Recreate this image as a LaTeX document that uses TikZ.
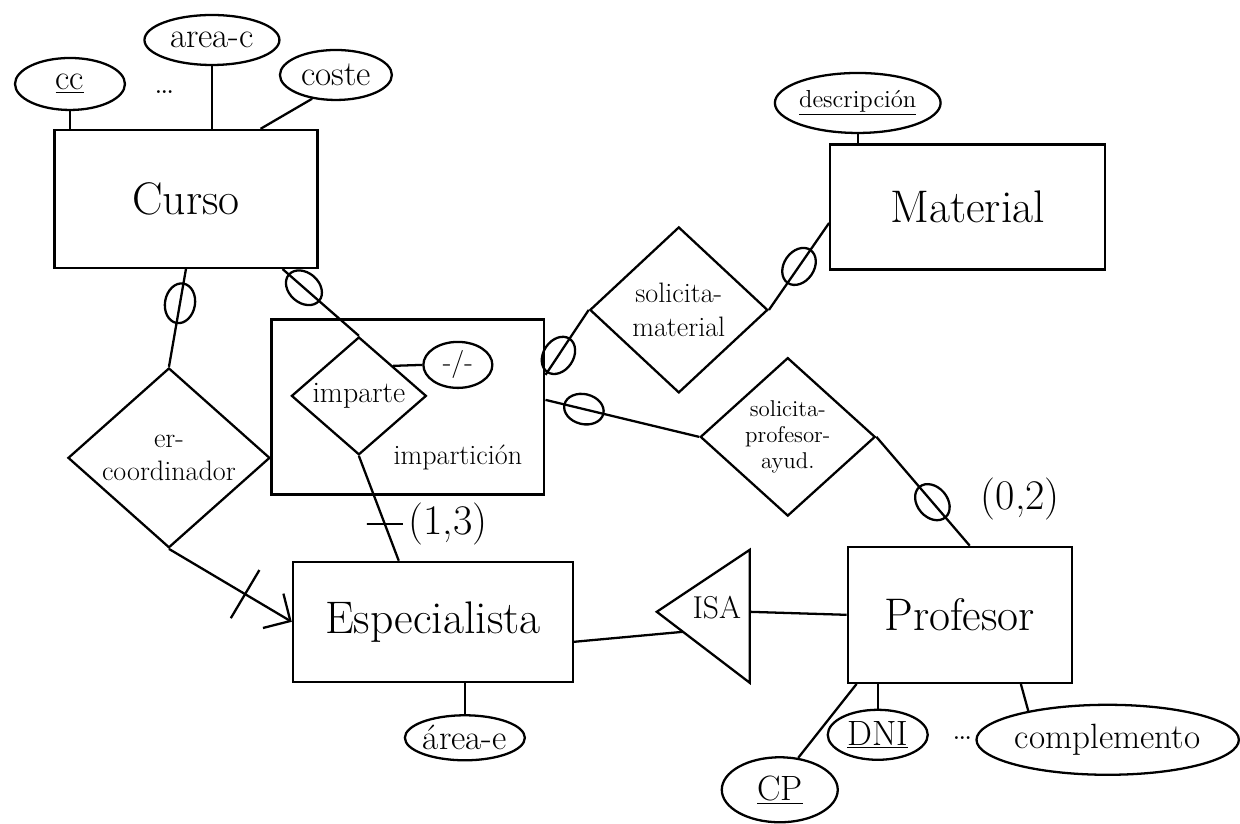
\documentclass[tikz,border=0pt]{standalone}
\usetikzlibrary{shapes.geometric}
\usetikzlibrary{arrows.meta}
\usetikzlibrary{positioning}

\begin{document}
\begin{tikzpicture}[
			x=0.2mm, y=-0.2mm,
			line width=1.3pt,
			entity/.style={rectangle, draw=black, inner sep=0pt, text centered, font=\fontsize{26}{30}\selectfont},
			attr/.style={ellipse, draw=black, inner sep=0pt, text centered, font=\fontsize{20}{24}\selectfont},
			relation/.style={diamond, draw=black, inner sep=0pt, align=center, font=\fontsize{16}{19}\selectfont},
			zeromark/.style={ellipse, draw=black, sloped, inner sep=0pt, minimum width=0.8cm, minimum height=0.6cm},
			dashmark/.style={rectangle, draw=black, inner sep=0pt, minimum width=0.72cm, minimum height=0pt},
			crossmark/.style={rectangle, draw=black, sloped, inner sep=0pt, minimum width=0pt, minimum height=1.12cm},
			card/.style={font=\fontsize{24}{28}\selectfont, inner sep=2pt},
			]
			
			\fill[white] (0,0) rectangle (1240,822);
			
			% entities
			\node[entity]      (curso)    [minimum width=5.26cm, minimum height=2.76cm] at (186,199)   {Curso};
			\node[entity]      (material) [minimum width=5.5cm, minimum height=2.5cm]   at (968,207)   {Material};
			\node[entity]      (esp)      [minimum width=5.6cm, minimum height=2.4cm]   at (433,622)   {Especialista};
			\node[entity]      (prof)     [minimum width=4.48cm, minimum height=2.72cm] at (960,615)   {Profesor};
			
			% aggregation
			\node[rectangle, draw=black, minimum width=5.46cm, minimum height=3.5cm] (impart) at (408,407) {};
			\node[font=\fontsize{16}{19}\selectfont] (impart_lbl) at (458,458) {impartición};
			
			% relationships
			\node[relation]    (ercoord)  [minimum width=4.04cm, minimum height=2.8cm]  at (169,458)   {er-\\coordinador};
			\node[relation]    (imparte)  [minimum width=2.7cm, minimum height=2.16cm, font=\fontsize{17}{19}\selectfont] at (359,396) {imparte};
			\node[relation]    (solmat)   [minimum width=3.56cm, minimum height=3.32cm] at (679,310)   {solicita-\\material};
			\node[relation]    (solprof)  [minimum width=3.5cm, minimum height=2.82cm, font=\fontsize{13}{15}\selectfont] at (788,437) {solicita-\\profesor-\\ayud.};
			
			% ISA
			\coordinate (isa_l) at (657,612);
			\coordinate (isa_t) at (750,550);
			\coordinate (isa_b) at (750,683);
			\coordinate (isa_in) at (683,632);
			\coordinate (isa_out) at (750,612);
			\draw (isa_l) -- (isa_t) -- (isa_b) -- cycle;
			\node[font=\fontsize{18}{20}\selectfont] (isa) at (717,608) {ISA};
			
			% attributes
			\node[attr]        (cc)       [minimum width=2.2cm, minimum height=1.04cm]  at (70,84)     {\underline{cc}};
			\node[attr]        (areac)    [minimum width=2.7cm, minimum height=1.0cm]   at (212,40)    {area-c};
			\node[attr]        (coste)    [minimum width=2.24cm, minimum height=1.0cm]  at (336,75)    {coste};
			\node[attr]        (descr)    [minimum width=3.1cm, minimum height=1.2cm, font=\fontsize{14}{16}\selectfont] at (858,103) {\underline{descripción}};
			\node[attr]        (pct)      [minimum width=1.38cm, minimum height=0.92cm, font=\fontsize{16}{18}\selectfont] at (458,365) {-/-};
			\node[attr]        (areae)    [minimum width=2.4cm, minimum height=0.9cm]   at (465,738)   {área-e};
			\node[attr]        (dni)      [minimum width=2.0cm, minimum height=1.0cm]   at (878,735)   {\underline{DNI}};
			\node[attr]        (cp)       [minimum width=2.32cm, minimum height=1.3cm]  at (780,790)   {\underline{CP}};
			\node[attr]        (compl)    [minimum width=4.7cm, minimum height=1.4cm]   at (1108,740)  {complemento};
			\node              (dots_c)   [font=\fontsize{20}{24}\selectfont]          at (165,92)    {\ldots};
			\node              (dots_p)   [font=\fontsize{20}{24}\selectfont]          at (963,738)   {\ldots};
			
			% attribute links
			\draw (cc.south)        -- (cc.south |- curso.north);
			\draw (areac.south)     -- (areac.south |- curso.north);
			\draw (coste.225)       -- ([xshift=-1.16cm]curso.north east);
			\draw (descr.south)     -- (descr.south |- material.north);
			\draw (imparte.north east) -- (pct.west);
			\draw (areae.north)     -- (areae.north |- esp.south);
			\draw (dni.north)       -- (dni.north |- prof.south);
			\draw (cp.60)           -- ([xshift=0.2cm]prof.south west);
			\draw (compl.160)       -- ([xshift=-1.04cm]prof.south east);
			
			% relationship links
			\draw (curso.south)                        -- node[zeromark, pos=0.35]  {}                    (ercoord.north);
			\draw ([xshift=-0.72cm]curso.south east)   -- node[zeromark, pos=0.28]  {}                    (imparte.north);
			\draw (imparte.south)                      -- node[dashmark, pos=0.65, label={[card]right:(1,3)}] {} ([xshift=2.14cm]esp.north west);
			\draw [arrows=-{Straight Barb[length=0.4cm, width=0.8cm]}] (ercoord.south) -- node[crossmark, pos=0.62] {} (esp.west);
			\draw ([yshift=0.64cm]impart.east)         -- node[zeromark, pos=0.3]   {}                    (solmat.west);
			\draw (solmat.east)                        -- node[zeromark, pos=0.5]   {}                    ([yshift=-0.32cm]material.west);
			\draw ([yshift=0.14cm]impart.east)         -- node[zeromark, pos=0.25]  {}                    (solprof.west);
			\draw (solprof.east)                       -- node[zeromark, pos=0.6, label={[card, xshift=0.6cm, yshift=0.9cm]right:(0,2)}] {} ([xshift=0.2cm]prof.north);
			\draw ([yshift=-0.4cm]esp.east)            -- (isa_in);
			\draw (isa_out)                            -- (prof.west);
			
\end{tikzpicture}
\end{document}
